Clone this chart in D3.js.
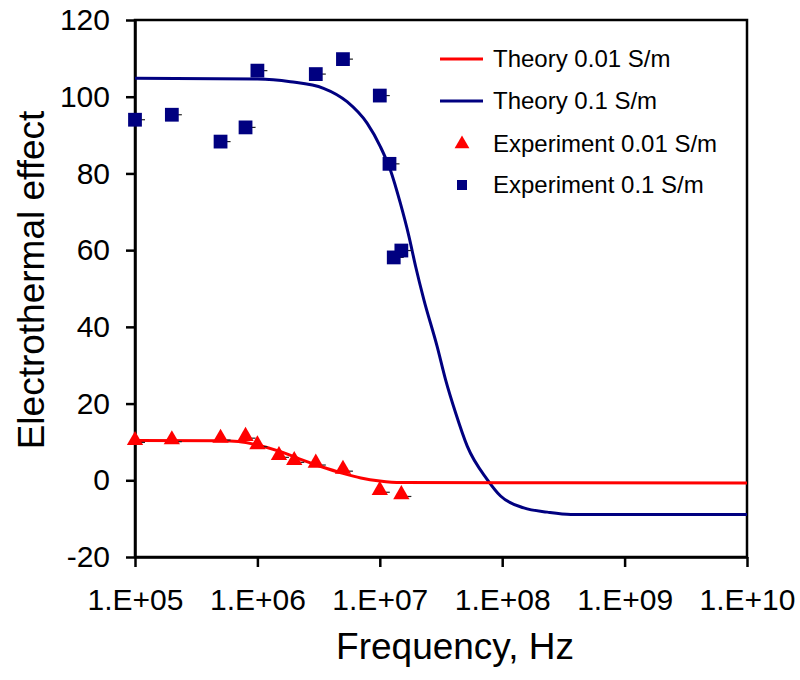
<!DOCTYPE html>
<html>
<head>
<meta charset="utf-8">
<script src="https://cdn.jsdelivr.net/npm/d3@7/dist/d3.min.js"></script>
<style>
  html, body { margin: 0; padding: 0; background: #fff; }
  svg { display: block; }
  text { font-family: "Liberation Sans", Arial, sans-serif; fill: #000; }
</style>
</head>
<body>
<svg id="chart" width="800" height="680"></svg>
<script>
// ---- data ----
const xTicks = [1e5, 1e6, 1e7, 1e8, 1e9, 1e10];
const xTickLabels = ["1.E+05", "1.E+06", "1.E+07", "1.E+08", "1.E+09", "1.E+10"];
const yTicks = [-20, 0, 20, 40, 60, 80, 100, 120];

const theory001F = [1e5, 5e5, 7e5, 1e6, 1.5e6, 2.2e6, 3.3e6, 5e6, 7e6, 1e7, 1.5e7, 1e10];
const theory001V = [10.4, 10.3, 10.1, 9.2, 7.6, 5.6, 3.6, 1.8, 0.6, -0.2, -0.6, -0.7];

const theory01F = [1e5, 1e6, 1.86e6, 3.47e6, 5.4e6, 7.87e6, 1.01e7, 1.22e7, 1.47e7, 1.73e7, 1.96e7, 2.29e7, 2.94e7, 3.44e7, 4.16e7, 5.18e7, 7.55e7, 9.7e7, 1.5e8, 2.34e8, 3.63e8, 1e10];
const theory01V = [104.8, 104.6, 103.9, 102.2, 98.7, 93.1, 87.0, 80.9, 72.3, 63.6, 55.8, 47.1, 34.9, 26.3, 17.6, 8.9, 0.2, -4.1, -7.2, -8.3, -8.9, -8.9];

const exp001F = [1e5, 2e5, 5e5, 8e5, 1e6, 1.5e6, 2e6, 3e6, 5e6, 1e7, 1.5e7];
const exp001V = [10.4, 10.6, 11.0, 11.5, 9.3, 6.5, 5.2, 4.5, 2.9, -2.6, -3.7];

const exp01F = [1e5, 2e5, 5e5, 8e5, 1e6, 3e6, 5e6, 1e7, 1.2e7, 1.3e7, 1.5e7];
const exp01V = [94.0, 95.3, 88.3, 92.0, 106.8, 105.9, 109.8, 100.3, 82.5, 58.1, 59.9];

const legendLabels = ["Theory 0.01 S/m", "Theory 0.1 S/m", "Experiment 0.01 S/m", "Experiment 0.1 S/m"];

// ---- chart ----
const RED = "#ff0000", BLUE = "#000080";
const svg = d3.select("#chart");
const L = 135, R = 747, T = 20, B = 557;

const x = d3.scaleLog().domain([1e5, 1e10]).range([L, R]);
const y = d3.scaleLinear().domain([-20, 120]).range([B, T]);

// frame
svg.append("rect").attr("x", L).attr("y", T).attr("width", R - L).attr("height", B - T)
  .attr("fill", "none").attr("stroke", "#000").attr("stroke-width", 2.5);

// axes
const xAxis = svg.append("g").attr("transform", `translate(0,${B})`)
  .call(d3.axisBottom(x).tickValues(xTicks).tickFormat((d, i) => xTickLabels[i]).tickSize(10).tickSizeOuter(0).tickPadding(22));
const yAxis = svg.append("g").attr("transform", `translate(${L},0)`)
  .call(d3.axisLeft(y).tickValues(yTicks).tickFormat(d => String(d)).tickSize(9).tickSizeOuter(0).tickPadding(16));
[xAxis, yAxis].forEach(g => {
  g.select(".domain").attr("stroke", "#000").attr("stroke-width", 2.5);
  g.selectAll(".tick line").attr("stroke", "#000").attr("stroke-width", 2.5);
  g.selectAll(".tick text").attr("font-size", 30).attr("font-family", "Liberation Sans, Arial, sans-serif").attr("fill", "#000");
});

// axis titles
svg.append("text").attr("x", 455).attr("y", 659).attr("text-anchor", "middle")
  .attr("font-size", 37).text("Frequency, Hz");
svg.append("text").attr("transform", "translate(44,280) rotate(-90)").attr("text-anchor", "middle")
  .attr("font-size", 37).text("Electrothermal effect");

// lines
const line = d3.line().x(d => x(d[0])).y(d => y(d[1])).curve(d3.curveMonotoneX);
svg.append("path").datum(d3.zip(theory01F, theory01V)).attr("d", line)
  .attr("fill", "none").attr("stroke", BLUE).attr("stroke-width", 3);
svg.append("path").datum(d3.zip(theory001F, theory001V)).attr("d", line)
  .attr("fill", "none").attr("stroke", RED).attr("stroke-width", 3);

// markers
const tri = d3.symbol().type(d3.symbolTriangle).size(115);
const sq = d3.symbol().type(d3.symbolSquare).size(190);
const g1 = svg.append("g");
d3.zip(exp001F, exp001V).forEach(d => {
  g1.append("line").attr("x1", x(d[0]) + 4).attr("x2", x(d[0]) + 10).attr("y1", y(d[1]) + 2).attr("y2", y(d[1]) + 2)
    .attr("stroke", "#222").attr("stroke-width", 1.2);
  g1.append("path").attr("d", tri).attr("transform", `translate(${x(d[0])},${y(d[1])})`).attr("fill", RED);
});
const g2 = svg.append("g");
d3.zip(exp01F, exp01V).forEach(d => {
  g2.append("line").attr("x1", x(d[0]) + 5).attr("x2", x(d[0]) + 10).attr("y1", y(d[1])).attr("y2", y(d[1]))
    .attr("stroke", "#222").attr("stroke-width", 1.2);
  g2.append("path").attr("d", sq).attr("transform", `translate(${x(d[0])},${y(d[1])})`).attr("fill", BLUE);
});

// legend
const legY = [59, 101, 144, 185];
const leg = svg.append("g");
legendLabels.forEach((t, i) => {
  const yy = legY[i];
  if (i === 0 || i === 1) {
    leg.append("line").attr("x1", 440).attr("x2", 483).attr("y1", yy).attr("y2", yy)
      .attr("stroke", i === 0 ? RED : BLUE).attr("stroke-width", 3);
  } else if (i === 2) {
    leg.append("path").attr("d", d3.symbol().type(d3.symbolTriangle).size(95)).attr("transform", `translate(462,${yy})`).attr("fill", RED);
  } else {
    leg.append("path").attr("d", d3.symbol().type(d3.symbolSquare).size(100)).attr("transform", `translate(462,${yy})`).attr("fill", BLUE);
  }
  leg.append("text").attr("x", 493).attr("y", yy).attr("dy", "0.35em").attr("font-size", 24).text(t);
});
</script>
</body>
</html>
